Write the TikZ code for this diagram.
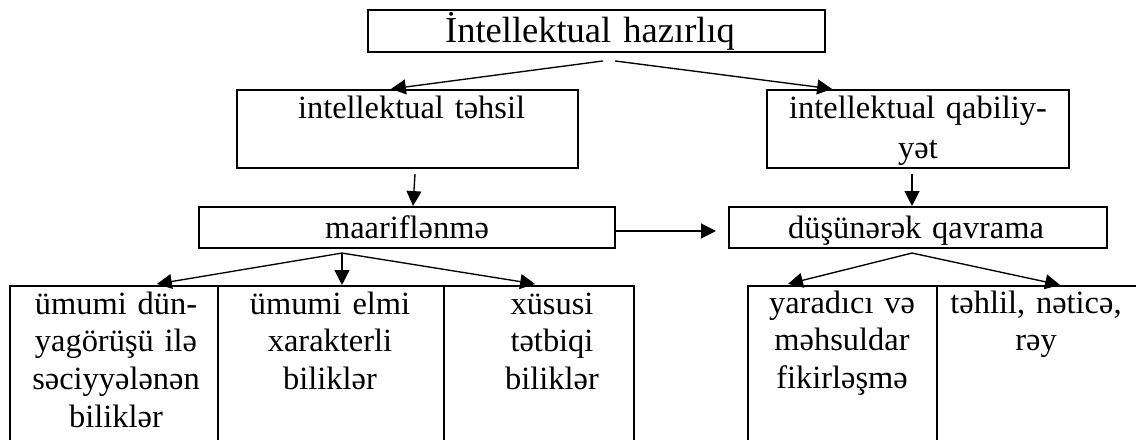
\documentclass[tikz,border=0pt]{standalone}
\usepackage{fontspec}
\setmainfont{Liberation Serif}
\usetikzlibrary{positioning,arrows.meta}

\begin{document}
\begin{tikzpicture}[
  x=0.37pt, y=-0.37pt,
  box/.style={draw=black, line width=0.75pt, inner sep=0pt},
  cell/.style={box, minimum height=64.4pt},
  txt/.style={inner sep=0pt, anchor=base, align=center,
              font=\fontsize{12}{14}\selectfont},
  arr/.style={-{Triangle[length=5.5pt, width=5.5pt]}, line width=0.5pt, draw=black}
]
\useasboundingbox (0,0) rectangle (1136,439);
\clip (0,0) rectangle (1136,439);

% boxes
\node[box, minimum width=169.1pt, minimum height=15.5pt] (hazir)  at (596.5,31)  {};
\node[box, minimum width=126.2pt, minimum height=28.9pt] (tahsil) at (407.5,129) {};
\node[box, minimum width=111.7pt, minimum height=28.9pt] (qabil)  at (918,129)   {};
\node[box, minimum width=153.9pt, minimum height=15.2pt] (maarif) at (407,227.5) {};
\node[box, minimum width=139.9pt, minimum height=15.2pt] (dusun)  at (918,227.5) {};

\node[cell, minimum width=77.0pt] (dunya)    at (114,373)    {};
\node[cell, minimum width=83.6pt] (elmi)     at (331,373)    {};
\node[cell, minimum width=70.3pt] (tatbiqi)  at (539,373)    {};
\node[cell, minimum width=69.9pt] (yaradici) at (842.5,373)  {};
\node[cell, minimum width=75.1pt] (tahlil)   at (1038.5,373) {};

% texts
\node[txt, text width=160pt, font=\fontsize{13.5}{16}\selectfont] (hazir-t) at (590,43) {İntellektual hazırlıq};
\node[txt, text width=120pt] (tahsil-t) at (411.5,119) {intellektual təhsil};
\node[txt, text width=110pt, font=\fontsize{12}{15}\selectfont] (qabil-t) at (918,118) {intellektual qabiliy-\\yət};
\node[txt, text width=150pt] (maarif-t) at (407,238) {maariflənmə};
\node[txt, text width=139pt] (dusun-t)  at (916,238) {düşünərək qavrama};

\node[txt, text width=75pt] (dunya-t)    at (116,314)  {ümumi dün-\\yagörüşü ilə\\səciyyələnən\\biliklər};
\node[txt, text width=80pt] (elmi-t)     at (330,314)  {ümumi elmi\\xarakterli\\biliklər};
\node[txt, text width=68pt] (tatbiqi-t)  at (552,314)  {xüsusi\\tətbiqi\\biliklər};
\node[txt, text width=68pt] (yaradici-t) at (842,313)  {yaradıcı və\\məhsuldar\\fikirləşmə};
\node[txt, text width=75pt] (tahlil-t)   at (1036,313) {təhlil, nəticə,\\rəy};

% connectors
\draw[arr] ([shift={(6.5,8)}]hazir.south)  -- ([shift={(-16.5,0)}]tahsil.north);
\draw[arr] ([shift={(18.5,8)}]hazir.south) -- ([shift={(-86,0)}]qabil.north);
\draw[arr] ([shift={(7.5,5)}]tahsil.south) -- ([shift={(6,0)}]maarif.north);
\draw[arr] ([shift={(-6,5)}]qabil.south)   -- ([shift={(-6,0)}]dusun.north);
\draw[arr] ([shift={(0,3.5)}]maarif.east)  -- ([shift={(-12,3.5)}]dusun.west);

\coordinate (mf) at ([shift={(-65,4)}]maarif.south);
\draw[arr] (mf) -- ([shift={(43,-1)}]dunya.north);
\draw[arr] (mf) -- ([shift={(11,0)}]elmi.north);
\draw[arr] (mf) -- ([shift={(-4,-1)}]tatbiqi.north);

\coordinate (df) at ([shift={(-6,4)}]dusun.south);
\draw[arr] (df) -- ([shift={(-54.5,-1)}]yaradici.north);
\draw[arr] (df) -- ([shift={(21.5,0)}]tahlil.north);
\end{tikzpicture}
\end{document}
